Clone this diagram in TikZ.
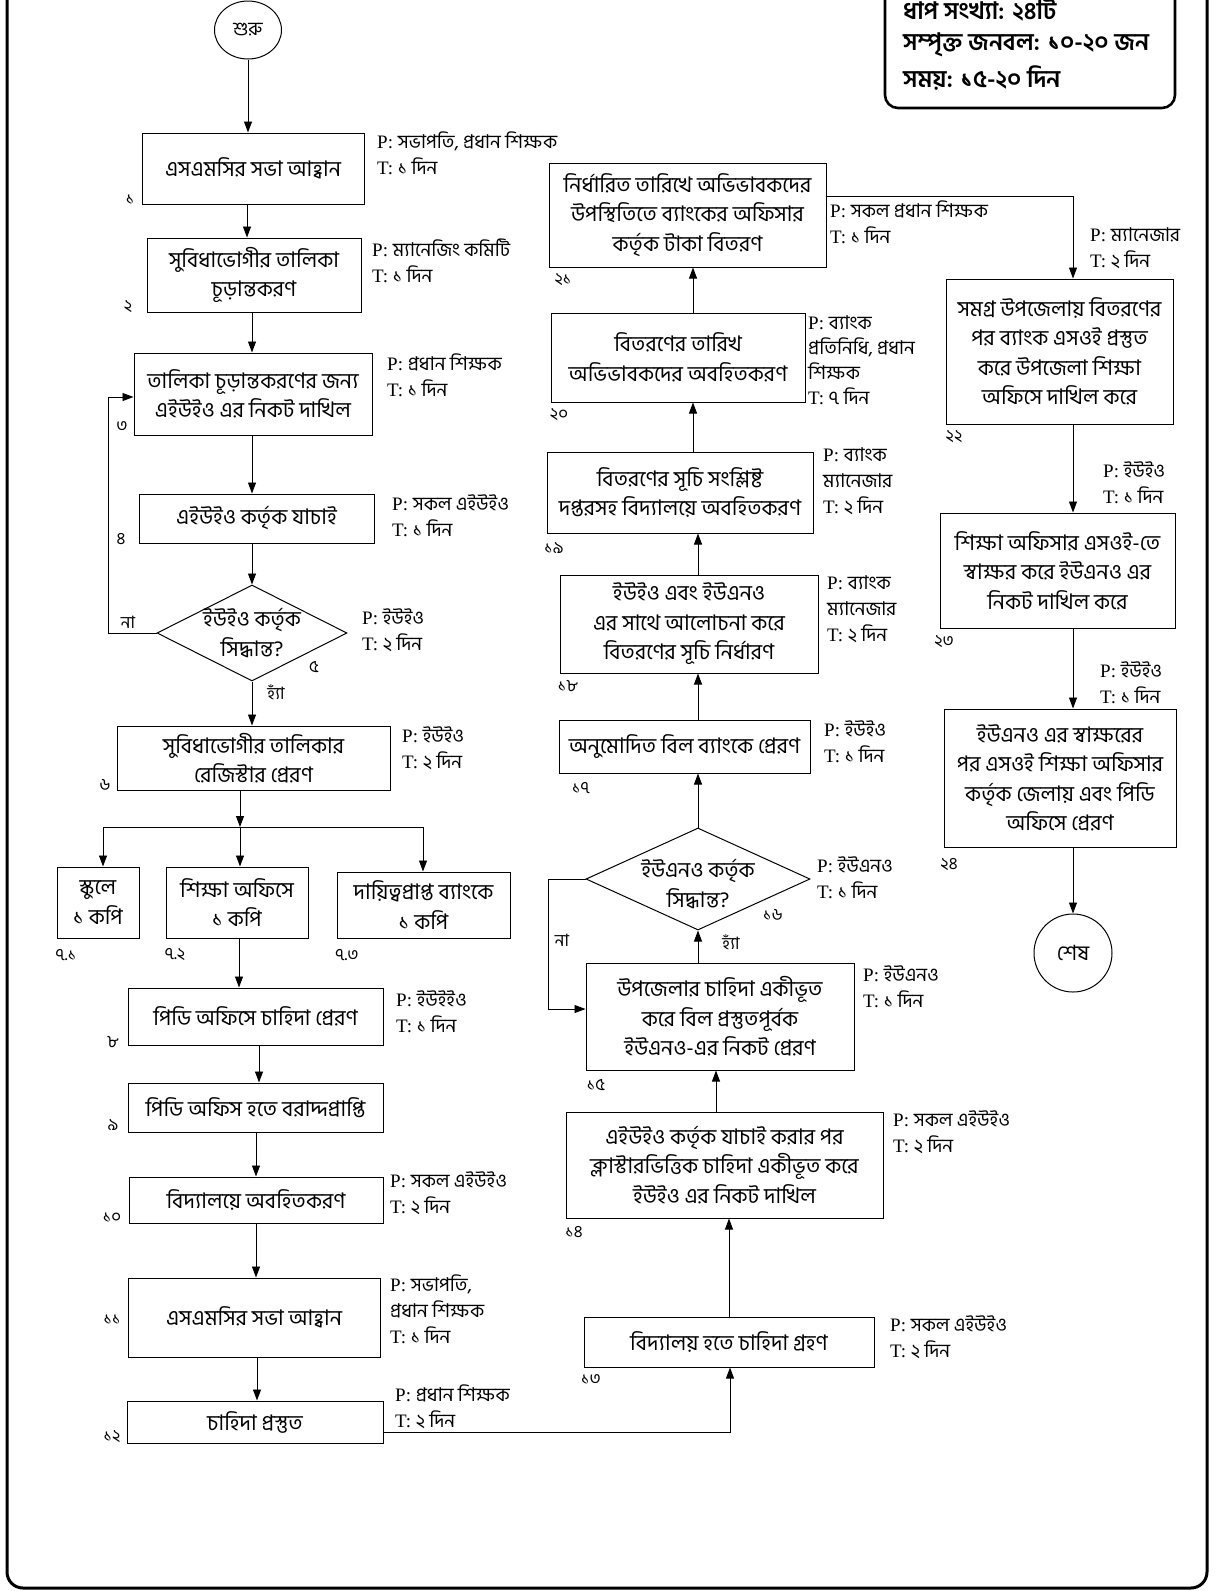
\documentclass[tikz,border=0pt]{standalone}
\usepackage{fontspec}
\setmainfont{Liberation Serif}
\newfontfamily\bn[Script=Bengali]{Hind Siliguri}
\usetikzlibrary{arrows.meta,shapes.geometric}
\newcommand\bnbox{\bn\fontsize{21.5}{29.5}\selectfont}
\newcommand\bnann{\fontsize{19}{26}\selectfont}
\newcommand\annpt[2]{P: {\bn #1}\\T: {\bn #2}}
\tikzset{
  box/.style={draw, line width=1pt, align=center, inner sep=0pt, font=\bnbox},
  term/.style={draw, ellipse, line width=1pt, inner sep=0pt, font=\bn\fontsize{19}{22}\selectfont},
  dia/.style={draw, diamond, line width=1pt, inner sep=0pt},
  dtext/.style={align=center, inner sep=0pt, font=\bnbox},
  ann/.style={anchor=west, align=left, inner sep=0pt, font=\bnann},
  num/.style={inner sep=0pt, font=\bn\fontsize{17}{20}\selectfont},
  yn/.style={inner sep=0pt, font=\bn\fontsize{17}{20}\selectfont},
  arr/.style={line width=0.9pt, -{Triangle[length=11pt,width=8pt]}},
  ln/.style={line width=0.9pt},
  info/.style={anchor=west, inner sep=0pt, font=\bn\bfseries\fontsize{24}{30}\selectfont}
}
\begin{document}
\begin{tikzpicture}[x=1pt,y=-1pt]
\useasboundingbox (0,0) rectangle (1220,1591);
\clip (0,0) rectangle (1220,1591);
% outer frame and info box
\draw[line width=3pt, rounded corners=16pt] (7,-60) rectangle (1207,1588);
\draw[line width=2.6pt, rounded corners=13pt] (885,-60) rectangle (1175,108);
\node[info] (i1) at (903,9) {ধাপ সংখ্যা: ২৪টি};
\node[info] (i2) at (903,45) {সম্পৃক্ত জনবল: ১০-২০ জন};
\node[info] (i3) at (903,78) {সময়: ১৫-২০ দিন};

% left column
\node[term, minimum width=67, minimum height=58] (st) at (248,30) {শুরু};
\node[box, minimum width=222, minimum height=71] (b1) at (253,168.5) {এসএমসির সভা আহ্বান};
\node[box, minimum width=214, minimum height=74] (b2) at (254,275) {সুবিধাভোগীর তালিকা\\চূড়ান্তকরণ};
\node[box, minimum width=238, minimum height=82] (b3) at (253,394) {তালিকা চূড়ান্তকরণের জন্য\\এইউইও এর নিকট দাখিল};
\node[box, minimum width=235, minimum height=49] (b4) at (256.5,518.5) {এইউইও কর্তৃক যাচাই};
\node[dia, minimum width=190, minimum height=96] (d5) at (252,633) {};
\node[dtext] (d5t) at (252,633) {ইউইও কর্তৃক\\সিদ্ধান্ত?};
\node[box, minimum width=273, minimum height=64] (b6) at (253.5,758) {সুবিধাভোগীর তালিকার\\রেজিস্টার প্রেরণ};
\node[box, minimum width=82, minimum height=71] (b71) at (98,902.5) {স্কুলে\\১ কপি};
\node[box, minimum width=142, minimum height=71] (b72) at (237,902.5) {শিক্ষা অফিসে\\১ কপি};
\node[box, minimum width=173, minimum height=66] (b73) at (423.5,905) {দায়িত্বপ্রাপ্ত ব্যাংকে\\১ কপি};
\node[box, minimum width=255, minimum height=57] (b8) at (255.5,1016.5) {পিডি অফিসে চাহিদা প্রেরণ};
\node[box, minimum width=255, minimum height=49] (b9) at (255.5,1107.5) {পিডি অফিস হতে বরাদ্দপ্রাপ্তি};
\node[box, minimum width=254, minimum height=46] (b10) at (256,1200) {বিদ্যালয়ে অবহিতকরণ};
\node[box, minimum width=252, minimum height=79] (b11) at (254,1317.5) {এসএমসির সভা আহ্বান};
\node[box, minimum width=256, minimum height=42] (b12) at (255,1422) {চাহিদা প্রস্তুত};

% middle column
\node[box, minimum width=290, minimum height=50] (b13) at (729,1342) {বিদ্যালয় হতে চাহিদা গ্রহণ};
\node[box, minimum width=317, minimum height=106] (b14) at (724.5,1165) {এইউইও কর্তৃক যাচাই করার পর\\ক্লাস্টারভিত্তিক চাহিদা একীভূত করে\\ইউইও এর নিকট দাখিল};
\node[box, minimum width=268, minimum height=107] (b15) at (720,1016.5) {উপজেলার চাহিদা একীভূত\\করে বিল প্রস্তুতপূর্বক\\ইউএনও-এর নিকট প্রেরণ};
\node[dia, minimum width=224, minimum height=102] (d16) at (698,879) {};
\node[dtext] (d16t) at (698,884) {ইউএনও কর্তৃক\\সিদ্ধান্ত?};
\node[box, minimum width=251, minimum height=53] (b17) at (684.5,746.5) {অনুমোদিত বিল ব্যাংকে প্রেরণ};
\node[box, minimum width=258, minimum height=98] (b18) at (689,624) {ইউইও এবং ইউএনও\\এর সাথে আলোচনা করে\\বিতরণের সূচি নির্ধারণ};
\node[box, minimum width=266, minimum height=81] (b19) at (680,492.5) {বিতরণের সূচি সংশ্লিষ্ট\\দপ্তরসহ বিদ্যালয়ে অবহিতকরণ};
\node[box, minimum width=254, minimum height=89] (b20) at (678,357.5) {বিতরণের তারিখ\\অভিভাবকদের অবহিতকরণ};
\node[box, minimum width=277, minimum height=104] (b21) at (687.5,215) {নির্ধারিত তারিখে অভিভাবকদের\\উপস্থিতিতে ব্যাংকের অফিসার\\কর্তৃক টাকা বিতরণ};

% right column
\node[box, minimum width=227, minimum height=145] (b22) at (1059.5,351.5) {সমগ্র উপজেলায় বিতরণের\\পর ব্যাংক এসওই প্রস্তুত\\করে উপজেলা শিক্ষা\\অফিসে দাখিল করে};
\node[box, minimum width=235, minimum height=115] (b23) at (1057.5,570.5) {শিক্ষা অফিসার এসওই-তে\\স্বাক্ষর করে ইউএনও এর\\নিকট দাখিল করে};
\node[box, minimum width=232, minimum height=138] (b24) at (1060,778) {ইউএনও এর স্বাক্ষরের\\পর এসওই শিক্ষা অফিসার\\কর্তৃক জেলায় এবং পিডি\\অফিসে প্রেরণ};
\node[term, minimum width=78, minimum height=78, font=\bn\fontsize{21}{24}\selectfont] (en) at (1073,953) {শেষ};

% connectors left column
\draw[arr] (st.south) -- (st.south |- b1.north);
\draw[arr] (247,0 |- b1.south) -- (247,0 |- b2.north);
\draw[arr] (252,0 |- b2.south) -- (252,0 |- b3.north);
\draw[arr] (252,0 |- b3.south) -- (252,0 |- b4.north);
\draw[arr] (252,0 |- b4.south) -- (d5.north);
\draw[arr] (d5.south) -- (252,0 |- b6.north);
\draw[arr] (d5.west) -- (108,633) -- (108,397) -- (b3.west |- 0,397);
\coordinate (j) at (240,827);
\coordinate (jl) at (103,827);
\coordinate (jr) at (423,827);
\draw[arr] (240,0 |- b6.south) -- (j);
\draw[ln] (jl) -- (jr);
\draw[arr] (jl) -- (jl |- b71.north);
\draw[arr] (j) -- (j |- b72.north);
\draw[arr] (jr) -- (jr |- b73.north);
\draw[arr] (239,0 |- b72.south) -- (239,0 |- b8.north);
\draw[arr] (259,0 |- b8.south) -- (259,0 |- b9.north);
\draw[arr] (256,0 |- b9.south) -- (256,0 |- b10.north);
\draw[arr] (256,0 |- b10.south) -- (256,0 |- b11.north);
\draw[arr] (257,0 |- b11.south) -- (257,0 |- b12.north);
\draw[arr] (b12.east |- 0,1432) -- (730,1432) -- (730,0 |- b13.south);

% connectors middle column
\draw[arr] (729,0 |- b13.north) -- (729,0 |- b14.south);
\draw[arr] (716,0 |- b14.north) -- (716,0 |- b15.south);
\draw[arr] (698,0 |- b15.north) -- (d16.south);
\draw[arr] (d16.west) -- (548,879) -- (548,1009) -- (b15.west |- 0,1009);
\draw[arr] (d16.north) -- (698,0 |- b17.south);
\draw[arr] (698,0 |- b17.north) -- (698,0 |- b18.south);
\draw[arr] (698,0 |- b18.north) -- (698,0 |- b19.south);
\draw[arr] (693,0 |- b19.north) -- (693,0 |- b20.south);
\draw[arr] (693,0 |- b20.north) -- (693,0 |- b21.south);
\draw[arr] (b21.east |- 0,196) -- (1073,196) -- (1073,0 |- b22.north);
\draw[arr] (1073,0 |- b22.south) -- (1073,0 |- b23.north);
\draw[arr] (1073,0 |- b23.south) -- (1073,0 |- b24.north);
\draw[arr] (1073,0 |- b24.south) -- (en.north);

% yes / no labels
\node[yn] (n5) at (128,622) {না};
\node[yn] (y5) at (276,692) {হ্যাঁ};
\node[yn] (n16) at (562,940) {না};
\node[yn] (y16) at (731,942) {হ্যাঁ};

% step numbers
\node[num] at (130,200) {১};
\node[num] at (128,307) {২};
\node[num] at (122,427) {৩};
\node[num] at (121,539) {৪};
\node[num] at (314,667) {৫};
\node[num] at (105,785) {৬};
\node[num] at (66,955) {৭.১};
\node[num] at (175,955) {৭.২};
\node[num] at (347,955) {৭.৩};
\node[num] at (113,1042) {৮};
\node[num] at (113,1125) {৯};
\node[num] at (112,1218) {১০};
\node[num] at (112,1320) {১১};
\node[num] at (112,1437) {১২};
\node[num] at (591,1380) {১৩};
\node[num] at (574,1232) {১৪};
\node[num] at (596,1085) {১৫};
\node[num] at (773,915) {১৬};
\node[num] at (581,788) {১৭};
\node[num] at (568,686) {১৮};
\node[num] at (554,548) {১৯};
\node[num] at (559,415) {২০};
\node[num] at (563,280) {২১};
\node[num] at (954,437) {২২};
\node[num] at (944,642) {২৩};
\node[num] at (949,865) {২৪};

% P / T annotations
\node[ann] at (377,153.5) {\annpt{সভাপতি, প্রধান শিক্ষক}{১ দিন}};
\node[ann] at (372,260.5) {\annpt{ম্যানেজিং কমিটি}{১ দিন}};
\node[ann] at (387,375.5) {\annpt{প্রধান শিক্ষক}{১ দিন}};
\node[ann] at (392,516) {\annpt{সকল এইউইও}{১ দিন}};
\node[ann] at (362,630) {\annpt{ইউইও}{২ দিন}};
\node[ann] at (402,748.5) {\annpt{ইউইও}{২ দিন}};
\node[ann] at (396,1011.5) {\annpt{ইউইইও}{১ দিন}};
\node[ann] at (390,1193.5) {\annpt{সকল এইউইও}{২ দিন}};
\node[ann] at (390,1309) {P: {\bn সভাপতি,}\\{\bn প্রধান শিক্ষক}\\T: {\bn ১ দিন}};
\node[ann] at (395,1406.5) {\annpt{প্রধান শিক্ষক}{২ দিন}};
\node[ann] at (890,1337.5) {\annpt{সকল এইউইও}{২ দিন}};
\node[ann] at (893,1132.5) {\annpt{সকল এইউইও}{২ দিন}};
\node[ann] at (863,986.5) {\annpt{ইউএনও}{১ দিন}};
\node[ann] at (817,878) {\annpt{ইউএনও}{১ দিন}};
\node[ann] at (824,741.5) {\annpt{ইউইও}{১ দিন}};
\node[ann] at (827,609) {P: {\bn ব্যাংক}\\{\bn ম্যানেজার}\\T: {\bn ২ দিন}};
\node[ann] at (823,481) {P: {\bn ব্যাংক}\\{\bn ম্যানেজার}\\T: {\bn ২ দিন}};
\node[ann, font=\fontsize{19}{25}\selectfont] at (808,360) {P: {\bn ব্যাংক}\\{\bn প্রতিনিধি, প্রধান}\\{\bn শিক্ষক}\\T: {\bn ৭ দিন}};
\node[ann] at (830,222.5) {\annpt{সকল প্রধান শিক্ষক}{১ দিন}};
\node[ann] at (1090,248.5) {\annpt{ম্যানেজার}{২ দিন}};
\node[ann] at (1103,482.5) {\annpt{ইউইও}{১ দিন}};
\node[ann] at (1100,683) {\annpt{ইউইও}{১ দিন}};
\end{tikzpicture}
\end{document}
